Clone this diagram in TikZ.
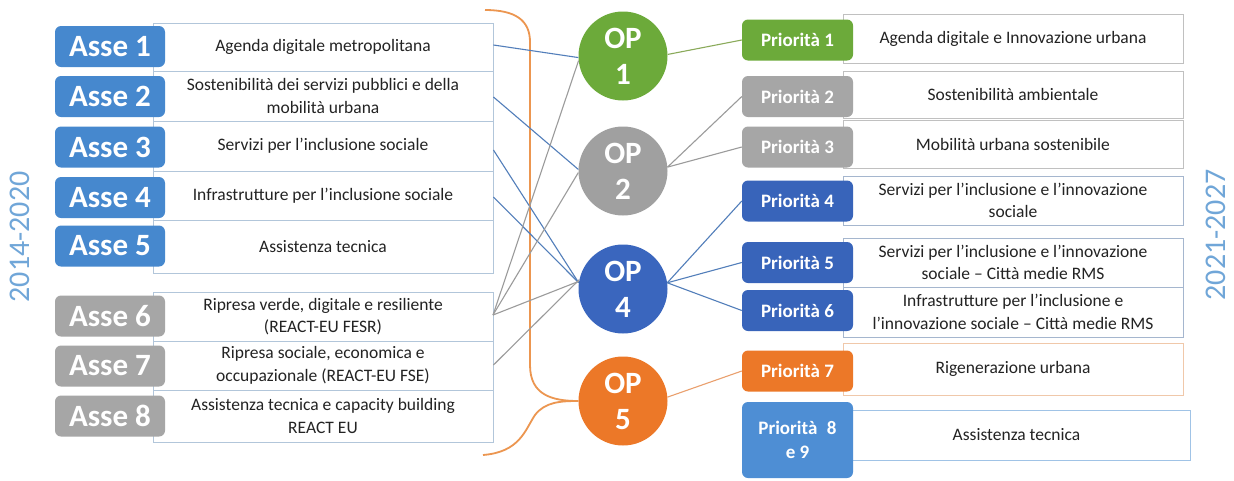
\documentclass[tikz,border=0pt]{standalone}
\usepackage{fontspec}
\setmainfont{Carlito}
\definecolor{txt}{RGB}{35,35,35}
\definecolor{abl}{RGB}{70,136,206}
\definecolor{agr}{RGB}{166,166,166}
\definecolor{ogr}{RGB}{108,170,58}
\definecolor{ogy}{RGB}{160,160,160}
\definecolor{obl}{RGB}{58,102,190}
\definecolor{oor}{RGB}{236,120,40}
\definecolor{pbl}{RGB}{56,100,186}
\definecolor{plb}{RGB}{78,142,212}
\definecolor{yr}{RGB}{112,166,216}
\definecolor{lbord}{RGB}{178,198,218}
\definecolor{rbord}{RGB}{192,192,192}
\definecolor{bbord}{RGB}{165,182,206}
\definecolor{obord}{RGB}{240,200,170}
\definecolor{lbbord}{RGB}{160,195,230}
\definecolor{lnbl}{RGB}{82,126,186}
\definecolor{lngy}{RGB}{155,155,155}
\definecolor{lngr}{RGB}{138,170,90}
\definecolor{lnor}{RGB}{234,160,110}
\definecolor{brk}{RGB}{236,150,80}
\tikzset{
  tagbox/.style={rounded corners=6pt, minimum width=110pt, minimum height=41pt, inner sep=0pt, text=white, font=\fontsize{31}{33}\selectfont\bfseries},
  ptag/.style={rounded corners=6pt, minimum width=111pt, minimum height=41pt, inner sep=0pt, text=white, font=\fontsize{19}{24}\selectfont\bfseries, align=center},
  lbox/.style={draw=lbord, line width=0.9pt, fill=white, minimum width=340pt, inner sep=0pt, text=txt, font=\fontsize{17.5}{22.5}\selectfont, align=center},
  rbox/.style={draw=rbord, line width=0.9pt, fill=white, minimum width=340pt, inner sep=0pt, text=txt, font=\fontsize{17.5}{22.5}\selectfont, align=center},
  opc/.style={circle, minimum size=89pt, inner sep=0pt, text=white, font=\fontsize{31}{36}\selectfont\bfseries, align=center},
  conn/.style={line width=1.1pt},
  yrlab/.style={text=yr, font=\fontsize{30}{30}\selectfont, rotate=90}
}
\begin{document}
\begin{tikzpicture}[x=1pt,y=-1pt]
\useasboundingbox (0,0) rectangle (1234,480);
\fill[white] (0,0) rectangle (1234,480);

% year labels
\node[yrlab] (y1) at (20,237) {2014-2020};
\node[yrlab] (y2) at (1216,235) {2021-2027};

% orange bracket ends
\coordinate (bt) at (485,10);
\coordinate (bb) at (483,455);

% OP circles
\node[opc, fill=ogr] (op1) at (623,56) {OP\\1};
\node[opc, fill=ogy] (op2) at (623,171) {OP\\2};
\node[opc, fill=obl] (op4) at (623,289) {OP\\4};
\node[opc, fill=oor] (op5) at (623,401) {OP\\5};

\draw[brk, line width=1.8pt] (bt) .. controls (515,10) and (530,20) .. (530,42) -- (530,365) .. controls (530,395) and (552,401) .. (op5.west);
\draw[brk, line width=1.8pt] (bb) .. controls (520,452) and (525,430) .. (535,415) .. controls (545,402) and (560,401) .. (op5.west);

% left text boxes
\node[lbox, minimum height=48pt] (b1) at (323,47) {Agenda digitale metropolitana};
\node[lbox, minimum height=50pt] (b2) at (323,96) {Sostenibilità dei servizi pubblici e della\\mobilità urbana};
\node[lbox, minimum height=50pt] (b3) at (323,146) {Servizi per l'inclusione sociale};
\node[lbox, minimum height=49pt] (b4) at (323,195.5) {Infrastrutture per l'inclusione sociale};
\node[lbox, minimum height=53pt] (b5) at (323,246.5) {Assistenza tecnica};
\node[lbox, minimum height=49pt] (b6) at (323,316.5) {Ripresa verde, digitale e resiliente\\(REACT-EU FESR)};
\node[lbox, minimum height=49pt] (b7) at (323,365.5) {Ripresa sociale, economica e\\occupazionale (REACT-EU FSE)};
\node[lbox, minimum height=52pt] (b8) at (323,416) {Assistenza tecnica e capacity building\\REACT EU};

% left tags
\node[tagbox, fill=abl] (a1) at (110,46.5) {Asse 1};
\node[tagbox, fill=abl] (a2) at (110,96.5) {Asse 2};
\node[tagbox, fill=abl] (a3) at (110,147) {Asse 3};
\node[tagbox, fill=abl] (a4) at (110,197.5) {Asse 4};
\node[tagbox, fill=abl] (a5) at (110,246) {Asse 5};
\node[tagbox, fill=agr] (a6) at (110,316) {Asse 6};
\node[tagbox, fill=agr] (a7) at (110,366) {Asse 7};
\node[tagbox, fill=agr] (a8) at (110,416) {Asse 8};

% right text boxes
\node[rbox, minimum height=49pt] (r1) at (1013,38.5) {Agenda digitale e Innovazione urbana};
\node[rbox, minimum height=47pt] (r2) at (1013,94.5) {Sostenibilità ambientale};
\node[rbox, minimum height=48pt] (r3) at (1013,144.5) {Mobilità urbana sostenibile};
\node[rbox, draw=bbord, minimum height=49pt] (r4) at (1013,200.5) {Servizi per l’inclusione e l’innovazione\\sociale};
\node[rbox, draw=bbord, minimum height=49pt] (r5) at (1013,262.5) {Servizi per l’inclusione e l’innovazione\\sociale – Città medie RMS};
\node[rbox, draw=bbord, minimum height=50pt] (r6) at (1013,312) {Infrastrutture per l’inclusione e\\l’innovazione sociale – Città medie RMS};
\node[rbox, draw=obord, minimum height=52pt] (r7) at (1013,369) {Rigenerazione urbana};
\node[rbox, draw=lbbord, minimum height=50pt, minimum width=347pt] (r8) at (1016.5,435) {Assistenza tecnica};

% right tags
\node[ptag, fill=ogr] (p1) at (797.5,40) {Priorità 1};
\node[ptag, fill=agr] (p2) at (797.5,96.5) {Priorità 2};
\node[ptag, fill=agr] (p3) at (797.5,147) {Priorità 3};
\node[ptag, fill=pbl] (p4) at (797.5,201) {Priorità 4};
\node[ptag, fill=pbl] (p5) at (797.5,262.5) {Priorità 5};
\node[ptag, fill=pbl] (p6) at (797.5,310.5) {Priorità 6};
\node[ptag, fill=oor] (p7) at (797.5,371) {Priorità 7};
\node[ptag, fill=plb, minimum height=76pt] (p8) at (797.5,440) {Priorità\enspace 8\\e 9};

% left connectors
\draw[conn, lnbl] (b1.east |- 0,45) -- (op1.182);
\draw[conn, lnbl] (b2.east |- 0,97) -- (op2.178);
\draw[conn, lnbl] (b3.east |- 0,150) -- (op4.172);
\draw[conn, lnbl] (b4.east |- 0,197) -- (op4.172);
\coordinate (s6) at (493,315);
\draw[conn, lngy] (s6) -- (op1.186);
\draw[conn, lngy] (s6) -- (op2.182);
\draw[conn, lngy] (s6) -- (op4.170);
\draw[conn, lngy] (b7.east |- 0,365) -- (op4.168);

% right connectors
\draw[conn, lngr] (op1.2) -- (p1.west);
\draw[conn, lngy] (op2.5) -- (p2.west);
\draw[conn, lngy] (op2.5) -- (p3.west);
\draw[conn, lnbl] (op4.8) -- (p4.west);
\draw[conn, lnbl] (op4.8) -- (p5.west);
\draw[conn, lnbl] (op4.8) -- (p6.west);
\draw[conn, lnor] (op5.5) -- (p7.west);
\end{tikzpicture}
\end{document}
